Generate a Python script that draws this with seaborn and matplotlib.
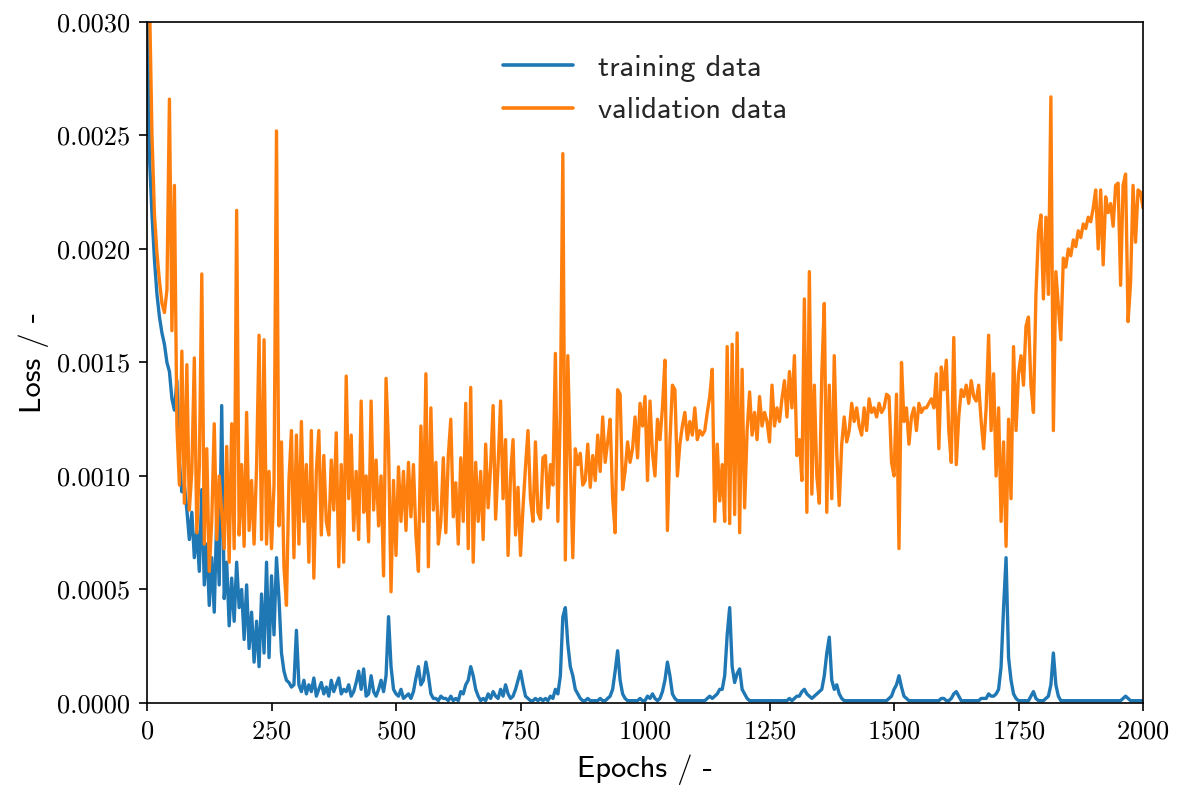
import matplotlib
matplotlib.use("Agg")
import matplotlib.pyplot as plt
from matplotlib.ticker import FormatStrFormatter, MultipleLocator
import numpy as np
import pandas as pd
import seaborn as sns

# Epoch grid (every 5th epoch is logged)
epochs = list(range(0, 2001, 5))

# Training loss, in units of 1e-4
train_loss_e4 = [
    32, 24, 21.5, 19.5, 18.0, 17.0, 16.3, 15.8, 15.0, 14.6, 13.4, 12.9, 14.2, 10.6, 9.3, 9.6, 8.5, 7.2, 8.4, 6.4,
    7.6, 5.8, 9.4, 5.2, 7.0, 4.3, 6.4, 4.0, 8.2, 5.2, 13.1, 4.6, 6.2, 3.4, 5.5, 3.6, 6.2, 4.2, 5.0, 2.8,
    5.2, 2.4, 4.0, 1.8, 3.6, 1.6, 4.8, 2.2, 6.2, 2.0, 5.6, 3.0, 6.4, 4.6, 2.2, 1.4, 1.0, 0.9, 0.7, 0.8,
    3.2, 0.8, 0.5, 1.0, 0.4, 0.8, 0.5, 1.1, 0.3, 0.6, 0.9, 0.4, 0.7, 0.3, 1.0, 0.5, 0.8, 1.1, 0.4, 0.6,
    0.5, 0.8, 0.3, 0.5, 0.9, 1.4, 0.6, 1.5, 0.3, 0.4, 1.2, 0.5, 0.3, 0.6, 1.0, 0.5, 1.2, 3.8, 1.6, 0.6,
    0.4, 0.3, 0.6, 0.2, 0.3, 0.4, 0.2, 0.5, 1.1, 1.6, 0.8, 1.0, 1.8, 1.2, 0.4, 0.2, 0.2, 0.1, 0.3, 0.2,
    0.2, 0.1, 0.3, 0.1, 0.2, 0.1, 0.5, 0.4, 0.8, 1.0, 1.6, 1.2, 0.6, 0.3, 0.1, 0.2, 0.1, 0.4, 0.2, 0.5,
    0.3, 0.2, 0.6, 0.3, 0.8, 0.4, 0.2, 0.3, 0.6, 1.0, 1.4, 0.8, 0.3, 0.2, 0.1, 0.1, 0.2, 0.1, 0.2, 0.1,
    0.2, 0.1, 0.3, 0.2, 0.6, 0.4, 1.2, 3.8, 4.2, 2.6, 1.6, 1.2, 0.6, 0.4, 0.2, 0.1, 0.1, 0.2, 0.1, 0.1,
    0.1, 0.1, 0.2, 0.1, 0.1, 0.2, 0.3, 0.6, 1.4, 2.3, 1.0, 0.4, 0.2, 0.1, 0.1, 0.1, 0.1, 0.1, 0.2, 0.1,
    0.1, 0.3, 0.2, 0.4, 0.2, 0.1, 0.2, 0.5, 1.0, 1.8, 1.2, 0.4, 0.2, 0.1, 0.1, 0.1, 0.1, 0.1, 0.1, 0.1,
    0.1, 0.1, 0.1, 0.1, 0.1, 0.2, 0.3, 0.2, 0.3, 0.4, 0.6, 0.6, 1.2, 3.0, 4.2, 1.6, 0.9, 1.3, 1.5, 0.6,
    0.4, 0.2, 0.1, 0.1, 0.1, 0.1, 0.1, 0.1, 0.1, 0.1, 0.1, 0.1, 0.1, 0.1, 0.1, 0.1, 0.1, 0.1, 0.2, 0.1,
    0.2, 0.3, 0.3, 0.5, 0.6, 0.4, 0.3, 0.2, 0.3, 0.4, 0.5, 0.6, 1.2, 2.2, 2.9, 1.0, 0.6, 0.8, 0.4, 0.2,
    0.1, 0.1, 0.1, 0.1, 0.1, 0.1, 0.1, 0.1, 0.1, 0.1, 0.1, 0.1, 0.1, 0.1, 0.1, 0.1, 0.1, 0.1, 0.2, 0.3,
    0.6, 0.8, 1.2, 0.7, 0.3, 0.2, 0.1, 0.1, 0.1, 0.1, 0.1, 0.1, 0.1, 0.1, 0.1, 0.1, 0.1, 0.1, 0.1, 0.2,
    0.2, 0.1, 0.1, 0.2, 0.4, 0.5, 0.3, 0.1, 0.1, 0.1, 0.1, 0.1, 0.1, 0.1, 0.1, 0.2, 0.2, 0.2, 0.4, 0.3,
    0.3, 0.4, 0.6, 1.6, 4.2, 6.4, 2.0, 1.0, 0.4, 0.2, 0.1, 0.1, 0.1, 0.1, 0.1, 0.3, 0.5, 0.2, 0.1, 0.1,
    0.1, 0.2, 0.3, 0.8, 2.2, 0.8, 0.3, 0.1, 0.1, 0.1, 0.1, 0.1, 0.1, 0.1, 0.1, 0.1, 0.1, 0.1, 0.1, 0.1,
    0.1, 0.1, 0.1, 0.1, 0.1, 0.1, 0.1, 0.1, 0.1, 0.1, 0.1, 0.1, 0.2, 0.3, 0.2, 0.1, 0.1, 0.1, 0.1, 0.1,
    0.1,
]

# Validation loss, in units of 1e-4
val_loss_e4 = [
    38, 31, 25, 21.5, 19.8, 18.6, 17.6, 17.2, 18.2, 26.6, 16.4, 22.8, 12.2, 9.6, 15.5, 8.8, 14.9, 8.5, 10.2, 15.2,
    7.5, 10.4, 18.9, 7.0, 11.2, 5.8, 8.0, 12.3, 7.2, 10.0, 8.4, 6.8, 11.3, 6.2, 12.3, 6.8, 21.7, 7.4, 10.5, 6.9,
    12.8, 7.6, 9.8, 7.0, 10.4, 16.2, 7.2, 16.0, 7.0, 10.2, 6.8, 9.6, 25.2, 7.8, 11.5, 6.0, 4.3, 9.8, 12.0, 6.4,
    11.8, 7.0, 12.4, 8.0, 10.5, 6.2, 12.0, 5.5, 10.2, 12.0, 7.4, 10.9, 8.0, 7.4, 10.7, 8.5, 11.9, 6.0, 10.5, 6.2,
    14.4, 9.0, 11.8, 7.6, 10.2, 7.2, 13.3, 8.4, 10.0, 7.1, 13.3, 8.5, 10.7, 7.8, 10.0, 5.6, 14.3, 11.3, 4.9, 9.8,
    6.5, 10.4, 8.0, 10.2, 7.6, 10.6, 8.2, 10.5, 7.4, 5.8, 12.2, 8.0, 14.5, 6.0, 13.0, 8.5, 10.6, 7.0, 8.0, 10.8,
    7.5, 10.9, 12.5, 8.2, 9.7, 7.0, 10.8, 8.0, 13.2, 6.8, 13.9, 6.2, 10.6, 8.0, 10.2, 7.2, 11.4, 8.6, 10.4, 13.1,
    8.1, 10.5, 13.3, 9.0, 11.6, 6.5, 10.0, 11.6, 7.4, 9.5, 6.5, 8.6, 10.4, 12.0, 9.0, 8.0, 11.5, 8.4, 8.1, 10.8,
    10.9, 8.6, 10.5, 9.6, 15.4, 8.0, 12.9, 24.2, 6.3, 15.3, 10.6, 6.4, 11.2, 10.5, 11.0, 9.6, 9.8, 11.4, 9.5, 10.9,
    9.8, 11.8, 10.2, 12.6, 10.6, 11.5, 12.5, 9.0, 7.5, 13.8, 13.6, 9.4, 10.2, 11.5, 10.6, 11.2, 12.6, 10.8, 13.2, 12.2,
    13.5, 9.8, 13.3, 11.0, 10.0, 12.5, 11.6, 13.0, 15.1, 7.6, 11.5, 14.0, 13.8, 10.0, 11.4, 12.2, 12.8, 11.6, 12.4, 11.8,
    13.0, 11.6, 12.0, 11.8, 12.0, 12.8, 13.5, 14.7, 8.0, 11.4, 8.9, 10.5, 8.0, 15.7, 7.9, 15.8, 8.3, 16.3, 7.5, 14.7,
    8.6, 12.0, 13.7, 11.8, 12.8, 11.6, 13.5, 12.2, 12.8, 12.4, 11.5, 14.0, 12.2, 13.0, 12.4, 13.4, 14.2, 12.6, 14.6, 13.0,
    15.3, 10.9, 11.6, 9.8, 17.8, 8.4, 19.0, 9.2, 14.0, 10.0, 8.8, 14.5, 17.6, 8.4, 14.0, 9.0, 15.3, 11.0, 8.7, 11.4,
    12.6, 11.5, 12.0, 13.2, 12.4, 13.0, 12.2, 11.8, 13.0, 12.0, 13.4, 12.8, 13.0, 12.6, 13.2, 12.8, 13.0, 13.6, 13.5, 10.6,
    10.0, 13.6, 6.8, 15.0, 12.4, 13.0, 11.4, 12.6, 13.0, 12.0, 13.2, 12.8, 13.0, 13.0, 13.2, 13.4, 13.0, 14.5, 11.2, 14.8,
    13.8, 15.1, 12.0, 10.6, 16.1, 10.5, 12.6, 13.8, 13.5, 14.0, 13.2, 14.2, 13.5, 13.3, 14.0, 12.4, 11.2, 13.0, 16.2, 12.0,
    14.5, 10.0, 13.0, 8.0, 11.5, 6.9, 12.5, 9.0, 15.7, 12.0, 14.5, 15.3, 14.0, 16.6, 17.0, 14.0, 12.8, 18.0, 20.7, 21.5,
    17.8, 21.4, 18.0, 26.7, 12.0, 19.0, 17.5, 16.0, 19.6, 19.2, 20.0, 19.7, 20.4, 20.1, 20.8, 20.5, 21.1, 20.9, 21.4, 21.2,
    21.8, 22.6, 20.0, 22.6, 19.3, 22.3, 21.6, 22.0, 21.0, 22.8, 22.9, 18.4, 22.8, 23.3, 16.8, 18.5, 22.8, 20.3, 22.6, 22.5,
    21.8,
]

x_ticks = [0, 250, 500, 750, 1000, 1250, 1500, 1750, 2000]
series_names = ["training data", "validation data"]
series_colors = ["#1f77b4", "#ff7f0e"]

df = pd.DataFrame({
    "epoch": epochs * 2,
    "loss": np.concatenate([np.array(train_loss_e4), np.array(val_loss_e4)]) * 1e-4,
    "series": [series_names[0]] * len(epochs) + [series_names[1]] * len(epochs),
})

sns.set_theme(style="ticks")
plt.rcParams["axes.formatter.use_mathtext"] = True

fig = plt.figure(figsize=(11.78, 7.85), dpi=100)
ax = fig.add_axes([0.1248, 0.1045, 0.8455, 0.8675])

sns.lineplot(data=df, x="epoch", y="loss", hue="series", hue_order=series_names,
             palette=series_colors, estimator=None, linewidth=2.4, ax=ax)

ax.set_xlim(0, 2000)
ax.set_ylim(0, 0.003)
ax.set_xticks(x_ticks)
ax.yaxis.set_major_locator(MultipleLocator(0.0005))
ax.yaxis.set_major_formatter(FormatStrFormatter("%.4f"))

for lab in ax.get_xticklabels() + ax.get_yticklabels():
    lab.set_fontfamily("cmr10")
    lab.set_fontsize(19)
ax.tick_params(direction="out", length=6, width=1.2, colors="black", pad=6)

for sp in ax.spines.values():
    sp.set_visible(True)
    sp.set_color("black")
    sp.set_linewidth(1.2)

ax.set_xlabel("Epochs / -", fontfamily="cmss10", fontsize=22, color="black", labelpad=8)
ax.set_ylabel("Loss / -", fontfamily="cmss10", fontsize=22, color="black", labelpad=6)

leg = ax.legend(loc="upper center", bbox_to_anchor=(0.5, 0.993), frameon=False,
                handlelength=2.3, prop={"family": "cmss10", "size": 22})
for line in leg.get_lines():
    line.set_linewidth(2.6)

fig.savefig("out.png", dpi=100, facecolor="white")
